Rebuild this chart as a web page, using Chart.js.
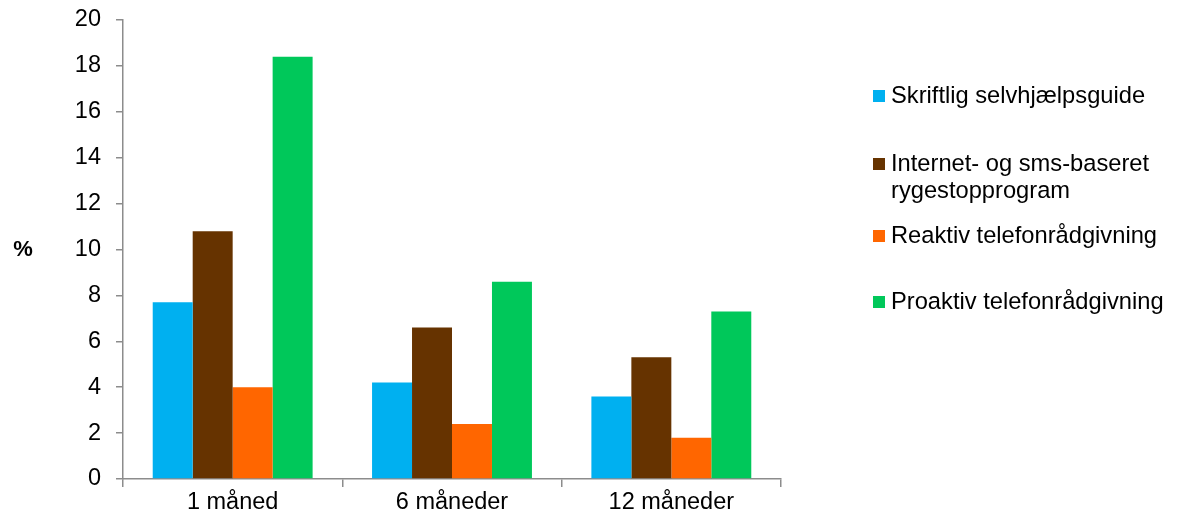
<!DOCTYPE html>
<html><head><meta charset="utf-8">
<script src="https://cdn.jsdelivr.net/npm/chart.js@4.4.1/dist/chart.umd.min.js"></script>
<style>html,body{margin:0;padding:0;background:#fff}#wrap{width:1178px;height:522px}</style>
</head><body><div id="wrap"><canvas id="c" width="1178" height="522"></canvas></div>
<script>
const categories = ["1 måned", "6 måneder", "12 måneder"];
const seriesNames = ["Skriftlig selvhjælpsguide", "Internet- og sms-baseret rygestopprogram", "Reaktiv telefonrådgivning", "Proaktiv telefonrådgivning"];
const skriftlig = [7.7, 4.2, 3.6];
const internetSms = [10.8, 6.6, 5.3];
const reaktiv = [4.0, 2.4, 1.8];
const proaktiv = [18.4, 8.6, 7.3];
const yTicks = [0, 2, 4, 6, 8, 10, 12, 14, 16, 18, 20];
const yLabel = "%";

const colors = ["#00B0F0", "#663300", "#FF6600", "#00C85A"];
const values = [skriftlig, internetSms, reaktiv, proaktiv];
const FONT = "'Liberation Sans', Arial, sans-serif";

const legendLines = [["Skriftlig selvhjælpsguide"], ["Internet- og sms-baseret", "rygestopprogram"], ["Reaktiv telefonrådgivning"], ["Proaktiv telefonrådgivning"]];
const legendY = [96, 164, 236, 302];

const extras = {
  id: 'extras',
  afterDraw(chart) {
    const ctx = chart.ctx;
    ctx.save();
    ctx.font = "23.7px " + FONT;
    ctx.fillStyle = "#000";
    ctx.textBaseline = "middle";
    chart.data.datasets.forEach((ds, i) => {
      const y = legendY[i];
      ctx.fillStyle = ds.backgroundColor;
      ctx.fillRect(873, y - 6, 12, 12);
      ctx.fillStyle = "#000";
      legendLines[i].forEach((t, j) => ctx.fillText(t, 891, y + j * 27));
    });
    ctx.font = "bold 22px " + FONT;
    ctx.textAlign = "center";
    ctx.fillText(yLabel, 23, 250);
    ctx.restore();
  }
};

new Chart(document.getElementById('c'), {
  type: 'bar',
  data: {
    labels: categories,
    datasets: seriesNames.map((n, i) => ({
      label: n, data: values[i], backgroundColor: colors[i], borderWidth: 0,
      categoryPercentage: 0.729, barPercentage: 1
    }))
  },
  options: {
    responsive: false, animation: false,
    layout: { padding: { top: 20, right: 397, left: 0, bottom: 0 } },
    plugins: { legend: { display: false }, tooltip: { enabled: false } },
    scales: {
      x: {
        grid: { drawOnChartArea: false, color: "#8c8c8c", lineWidth: 1.5, tickLength: 8, offset: true },
        border: { color: "#8c8c8c", width: 1.5 },
        ticks: { color: "#000", font: { family: FONT, size: 23.5, lineHeight: 1 }, padding: 4 },
        afterFit: s => { s.height = 43; s.paddingLeft = 0; s.paddingRight = 0; }
      },
      y: {
        min: 0, max: 20,
        afterBuildTicks: s => { s.ticks = yTicks.map(v => ({ value: v })); },
        grid: { drawOnChartArea: false, color: "#8c8c8c", lineWidth: 1.5, tickLength: 7 },
        border: { color: "#8c8c8c", width: 1.5 },
        ticks: { color: "#000", font: { family: FONT, size: 23.5, lineHeight: 1 }, padding: 15 },
        afterFit: s => { s.width = 123; s.paddingTop = 0; s.paddingBottom = 0; }
      }
    }
  },
  plugins: [extras]
});
</script></body></html>
